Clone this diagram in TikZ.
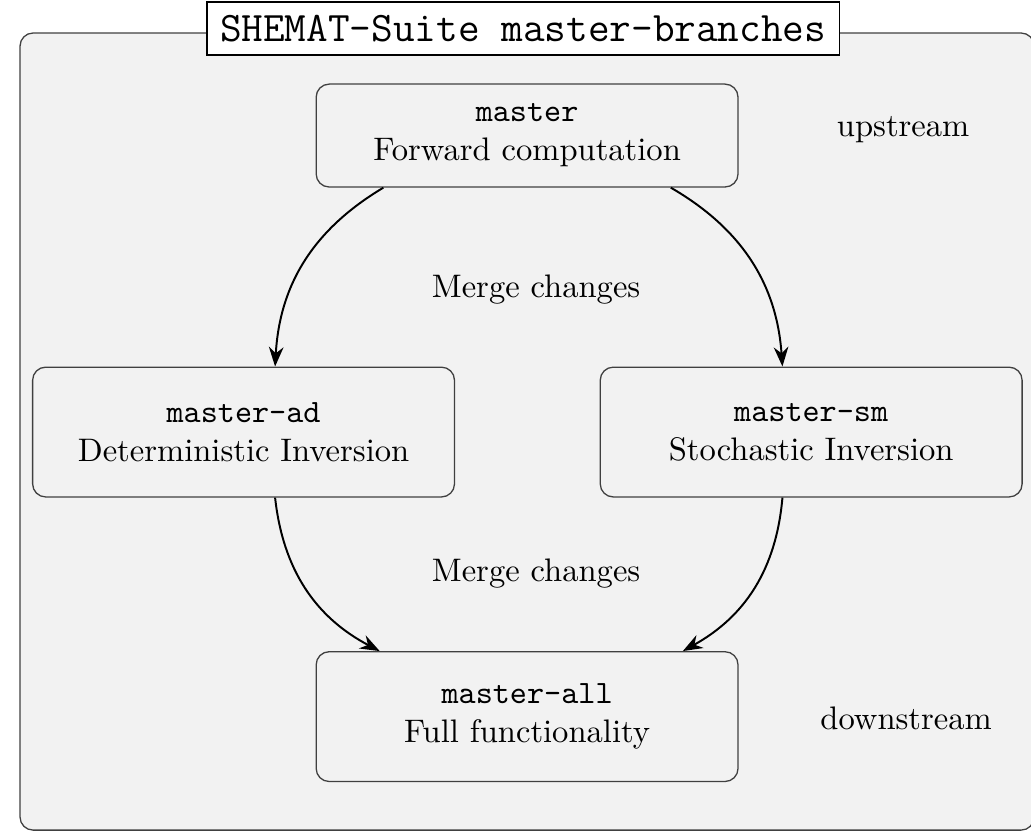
\documentclass[tikz,border=0pt]{standalone}
\usetikzlibrary{arrows.meta}

\definecolor{panelgray}{gray}{0.95}
\definecolor{linegray}{gray}{0.25}

\begin{document}
\begin{tikzpicture}[
    branch/.style={draw=linegray, rounded corners=4pt, minimum width=4.55cm,
      minimum height=1.4cm, align=center},
    mergearrow/.style={-{Stealth[length=6pt,width=4.5pt]}, semithick}
  ]

        \useasboundingbox (0,0) rectangle (11.12,-8.975);

        % frame and title
        \draw[linegray, fill=panelgray, rounded corners=4pt]
          (0.216,-0.356) rectangle (11.154,-8.953);
        \node[draw=black, thin, fill=white, font=\fontsize{12.9}{15}\selectfont\ttfamily,
          inner xsep=4pt, inner ysep=4pt] (title) at (5.642,-0.307) {SHEMAT-Suite master-branches};

        \begin{scope}[every node/.style={branch}]
          \node[minimum height=1.11cm] (master) at (5.685,-1.462)
            {\texttt{master}\\Forward computation};
          \node (ad)  at (2.627,-4.660) {\texttt{master-ad}\\Deterministic Inversion};
          \node (sm)  at (8.749,-4.660) {\texttt{master-sm}\\Stochastic Inversion};
          \node (all) at (5.685,-7.729) {\texttt{master-all}\\Full functionality};
        \end{scope}

        \node (up)    at (9.741,-1.402) {upstream};
        \node (down)  at (9.773,-7.745) {downstream};
        \node (merge1) at (5.782,-3.128) {Merge changes};
        \node (merge2) at (5.782,-6.181) {Merge changes};

        \begin{scope}[every edge/.style={draw, mergearrow}]
          \path ([xshift=-1.55cm]master.south) edge[bend right=28] ([xshift=0.34cm]ad.north);
          \path ([xshift=1.55cm]master.south)  edge[bend left=28]  ([xshift=-0.31cm]sm.north);
          \path ([xshift=0.34cm]ad.south)      edge[bend right=28] ([xshift=-1.59cm]all.north);
          \path ([xshift=-0.31cm]sm.south)     edge[bend left=28]  ([xshift=1.68cm]all.north);
        \end{scope}

\end{tikzpicture}
\end{document}
